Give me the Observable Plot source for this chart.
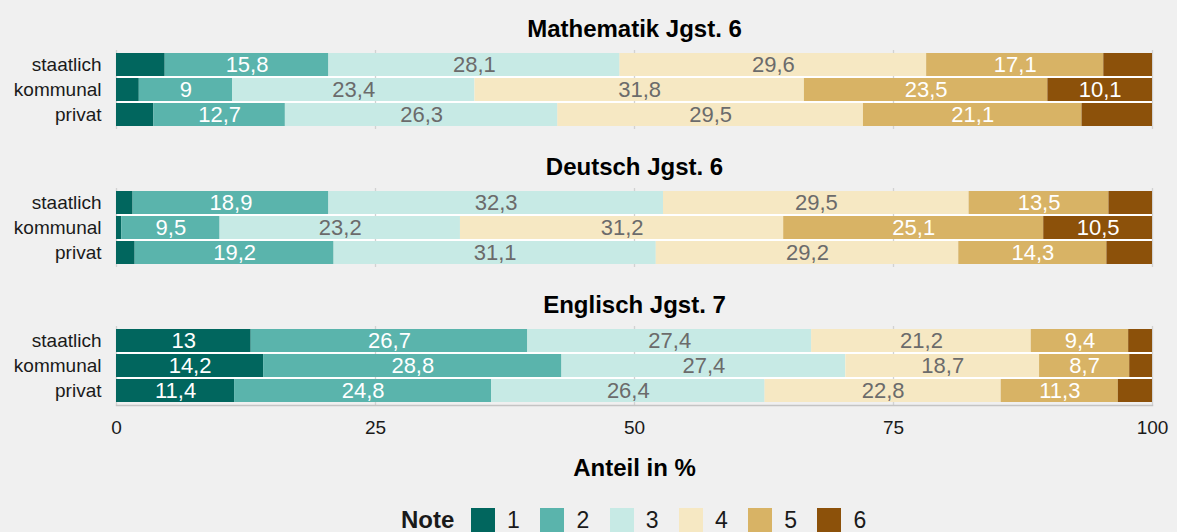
<!DOCTYPE html>
<html>
<head>
<meta charset="utf-8">
<script src="https://cdn.jsdelivr.net/npm/d3@7"></script>
<script src="https://cdn.jsdelivr.net/npm/@observablehq/plot@0.6"></script>
<style>
  html, body { margin: 0; padding: 0; background: #f0f0f0; }
  body { width: 1177px; height: 532px; overflow: hidden; font-family: "Liberation Sans", Arial, sans-serif; }
  #legend { display: flex; align-items: center; height: 24px; line-height: 24px; margin-top: 18px; margin-left: 401px; color: #1a1a1a; }
  #legend .title { font-weight: bold; font-size: 24px; width: 70px; }
  #legend .item { display: flex; align-items: center; width: 69.3px; }
  #legend .sw { width: 24px; height: 24px; }
  #legend .lab { width: 37px; text-align: center; font-size: 23px; }
</style>
</head>
<body>
<div id="chart"></div>
<div id="legend"></div>
<script>
// Facets, rows and grade categories
const subjects = ["Mathematik Jgst. 6", "Deutsch Jgst. 6", "Englisch Jgst. 7"];
const schools = ["staatlich", "kommunal", "privat"];
const notes = ["1", "2", "3", "4", "5", "6"];
const noteColors = ["#01665e", "#5ab4ac", "#c7eae5", "#f6e8c3", "#d8b365", "#8c510a"];

// Share (%) of each grade 1..6, one row per school type
const mathe = [
  [4.7, 15.8, 28.1, 29.6, 17.1, 4.7],
  [2.2, 9, 23.4, 31.8, 23.5, 10.1],
  [3.6, 12.7, 26.3, 29.5, 21.1, 6.8]
];
const deutsch = [
  [1.6, 18.9, 32.3, 29.5, 13.5, 4.2],
  [0.5, 9.5, 23.2, 31.2, 25.1, 10.5],
  [1.8, 19.2, 31.1, 29.2, 14.3, 4.4]
];
const englisch = [
  [13, 26.7, 27.4, 21.2, 9.4, 2.3],
  [14.2, 28.8, 27.4, 18.7, 8.7, 2.2],
  [11.4, 24.8, 26.4, 22.8, 11.3, 3.3]
];

const xTicks = [0, 25, 50, 75, 100];
const axisTitle = "Anteil in %";
const legendTitle = "Note";

// Long table: subject × school × note
const tables = [mathe, deutsch, englisch];
const rows = [];
subjects.forEach((subject, s) => {
  schools.forEach((school, r) => {
    notes.forEach((note, n) => {
      rows.push({subject, school, note, value: tables[s][r][n]});
    });
  });
});

const darkNotes = new Set(["1", "2", "5", "6"]);
const fmt = v => String(v).replace(".", ",");
const minLabel = 8;

const chart = Plot.plot({
  width: 1177,
  height: 490,
  marginTop: 49,
  marginBottom: 84,
  marginLeft: 116,
  marginRight: 25,
  style: {
    background: "transparent",
    fontFamily: "'Liberation Sans', Arial, sans-serif",
    fontSize: "19px",
    color: "#1a1a1a"
  },
  x: {domain: [0, 100], ticks: xTicks, tickSize: 0, tickPadding: 14.5, label: null},
  y: {domain: schools, paddingInner: 0.1, paddingOuter: 0.125, tickSize: 0, tickPadding: 15, label: null},
  fy: {domain: subjects, paddingInner: 0.428, paddingOuter: 0, axis: null},
  color: {domain: notes, range: noteColors},
  marks: [
    // white separators between the rows
    Plot.barX(schools.filter(d => d === "kommunal"), {
      x1: 0, x2: 100, y: d => d, fill: "white", insetTop: -2.6, insetBottom: -2.6
    }),
    // grid lines and left axis line
    Plot.ruleX(xTicks, {stroke: "#d2d2d2", strokeWidth: 1.3}),
    // bottom axis line on the last panel
    Plot.frame({anchor: "bottom", facetAnchor: "bottom", stroke: "#c4c4c4", strokeWidth: 1.5}),
    Plot.barX(rows, Plot.stackX({x: "value", y: "school", fy: "subject", fill: "note"})),
    Plot.text(rows, Plot.stackX({
      x: "value", y: "school", fy: "subject",
      text: d => (darkNotes.has(d.note) && d.value >= minLabel) ? fmt(d.value) : null,
      fill: "white", fontSize: 22
    })),
    Plot.text(rows, Plot.stackX({
      x: "value", y: "school", fy: "subject",
      text: d => (!darkNotes.has(d.note) && d.value >= minLabel) ? fmt(d.value) : null,
      fill: "#6b6b6b", fontSize: 22
    })),
    // panel titles
    Plot.text(subjects, {
      fy: d => d, text: d => d, frameAnchor: "top", lineAnchor: "middle", dy: -20.7,
      fontSize: 24, fontWeight: "bold", fill: "#000"
    }),
    // x axis title below the last panel
    Plot.text([subjects[subjects.length - 1]], {
      fy: d => d, text: () => axisTitle, frameAnchor: "bottom", dy: 53, lineAnchor: "top",
      fontSize: 24, fontWeight: "bold", fill: "#000"
    })
  ]
});
document.getElementById("chart").appendChild(chart);

// Legend for the grade colours
const legend = document.getElementById("legend");
const t = document.createElement("span");
t.className = "title";
t.textContent = legendTitle;
legend.appendChild(t);
notes.forEach((n, i) => {
  const item = document.createElement("span");
  item.className = "item";
  const sw = document.createElement("span");
  sw.className = "sw";
  sw.style.background = noteColors[i];
  const lab = document.createElement("span");
  lab.className = "lab";
  lab.textContent = n;
  item.appendChild(sw);
  item.appendChild(lab);
  legend.appendChild(item);
});
</script>
</body>
</html>
